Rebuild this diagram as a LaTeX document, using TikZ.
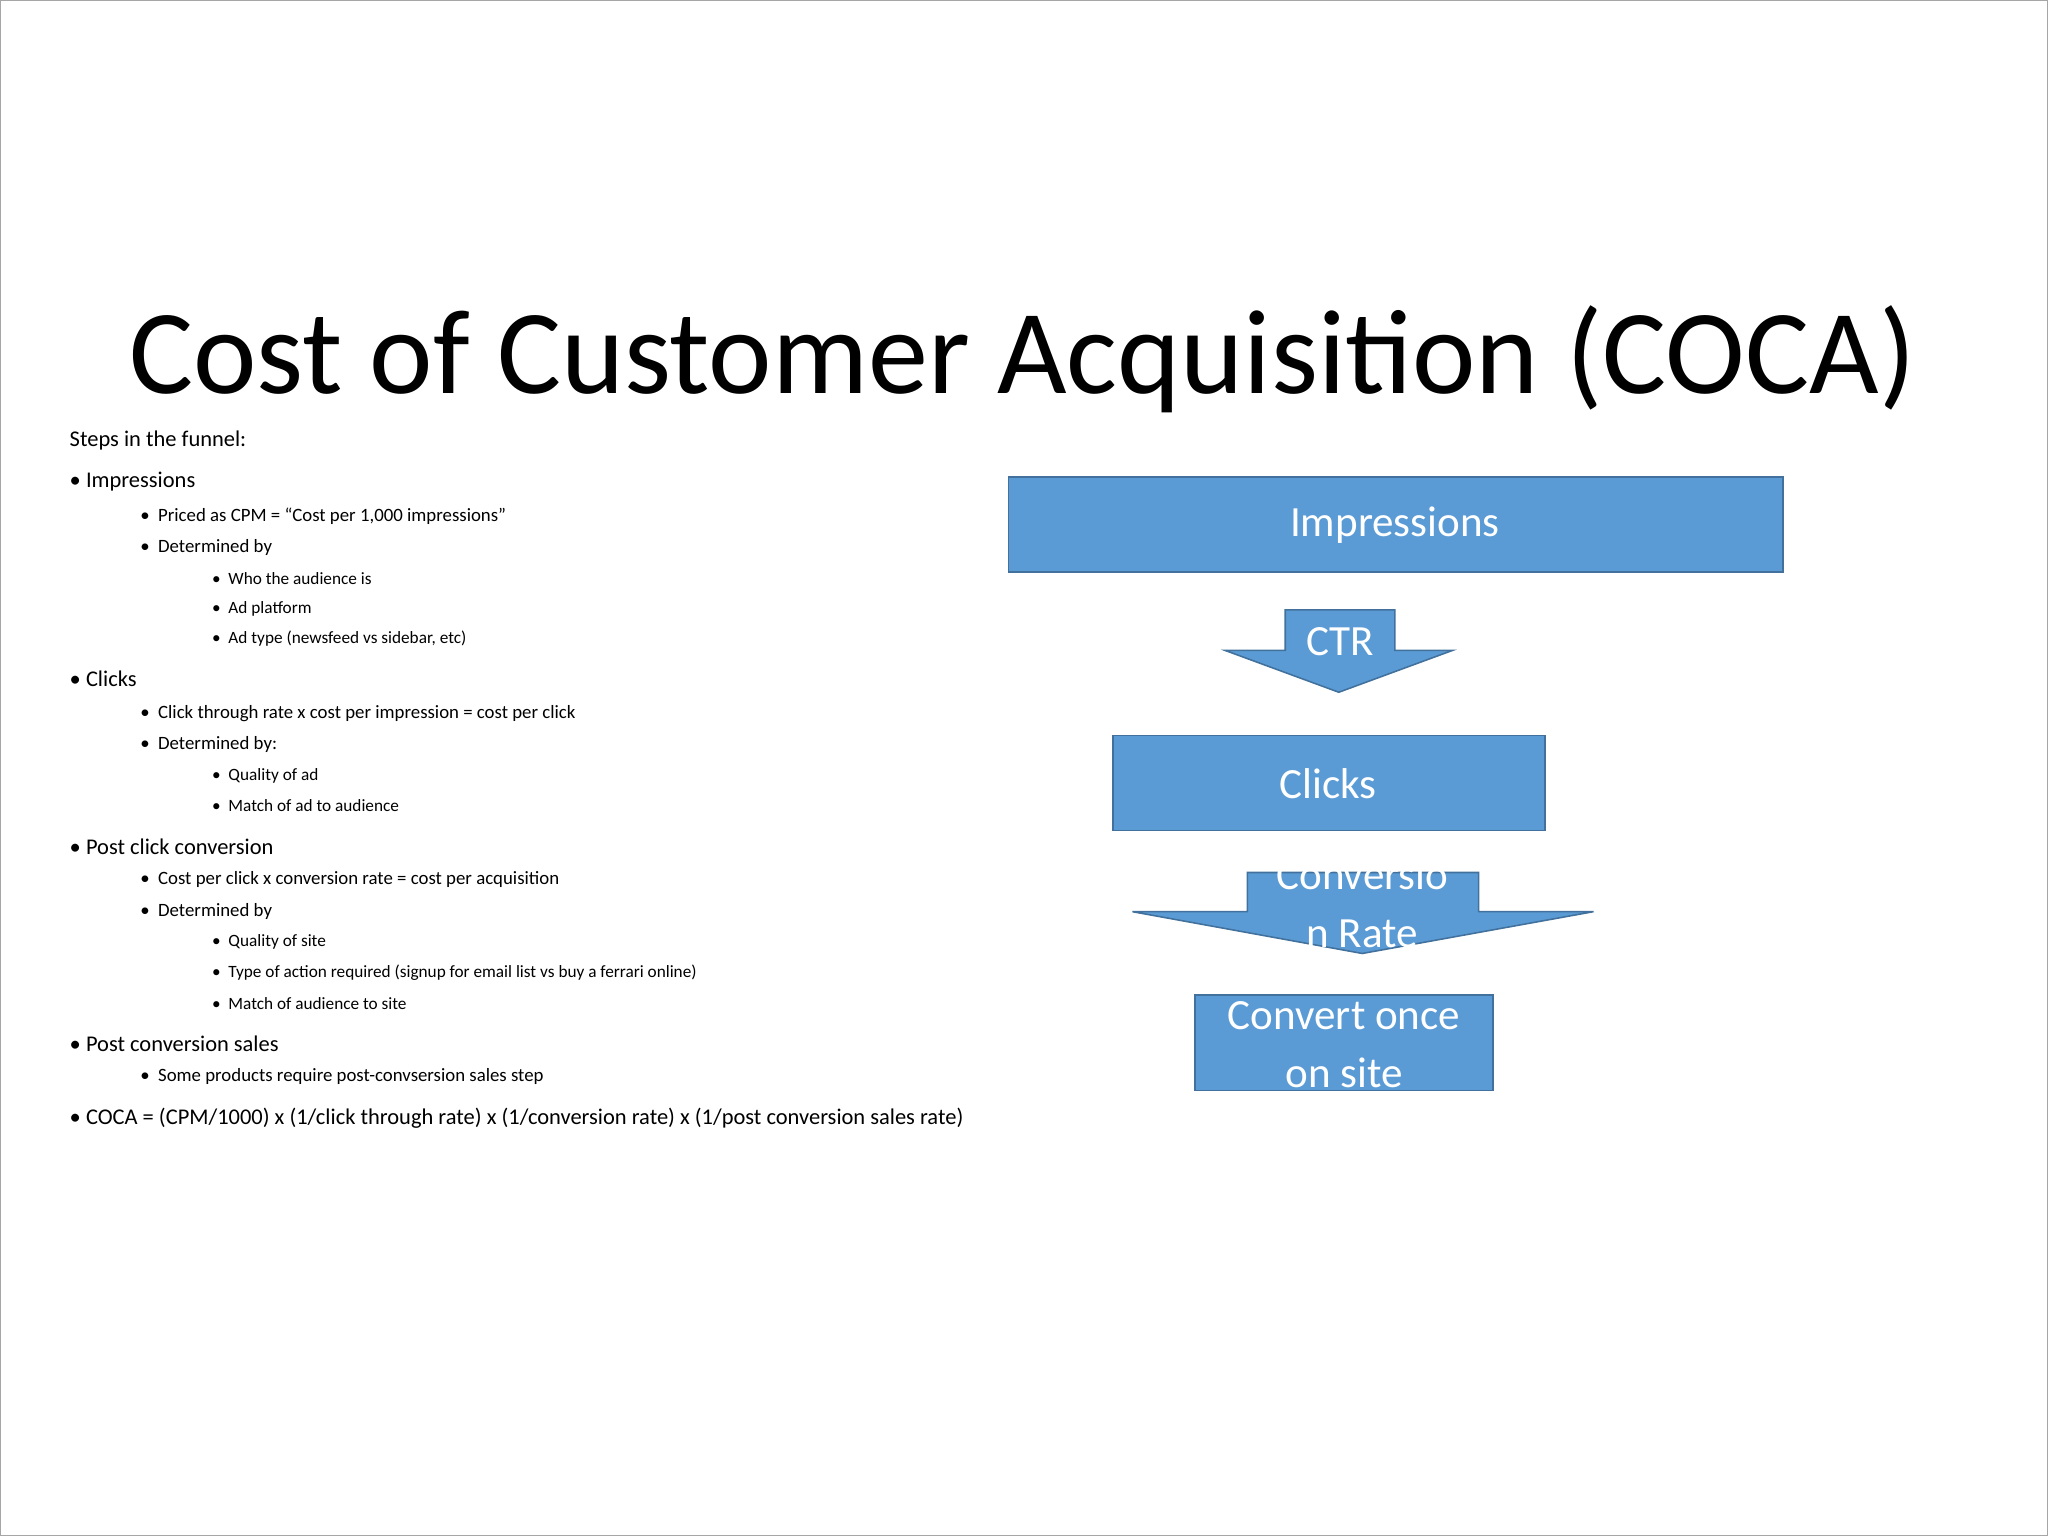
\documentclass[tikz,border=0pt]{standalone}
\usepackage{fontspec}
\setmainfont{Carlito}
\definecolor{boxblue}{HTML}{5B9BD5}
\definecolor{boxedge}{HTML}{41719C}
\tikzset{
  lvl0/.style={anchor=west,inner sep=0pt,font=\fontsize{8.6}{10}\selectfont},
  lvl1/.style={anchor=west,inner sep=0pt,font=\fontsize{7.2}{9}\selectfont},
  lvl2/.style={anchor=west,inner sep=0pt,font=\fontsize{6.6}{8}\selectfont},
  bx/.style={fill=boxblue,draw=boxedge,line width=0.6pt},
  bxt/.style={text=white,font=\fontsize{16.5}{20}\selectfont,inner sep=0pt,align=center}
}
\begin{document}
\begin{tikzpicture}[x=0.5pt,y=-0.5pt]
\useasboundingbox (0,0) rectangle (1568,1176);
\draw[gray!70,line width=0.6pt] (0.5,0.5) rectangle (1567.5,1175.5);
\node[inner sep=0pt,font=\fontsize{46}{50}\selectfont] (title) at (783,275) {Cost of Customer Acquisition (COCA)};
% text
\node[lvl0] (s0) at (53,337) {Steps in the funnel:};
\node[lvl0] (a) at (53,369) {\textbullet\ Impressions};
\node[lvl1] (a1) at (107,395) {\textbullet\ \ Priced as CPM = “Cost per 1,000 impressions”};
\node[lvl1] (a2) at (107,419) {\textbullet\ \ Determined by};
\node[lvl2] (a3) at (162,443) {\textbullet\ \ Who the audience is};
\node[lvl2] (a4) at (162,466) {\textbullet\ \ Ad platform};
\node[lvl2] (a5) at (162,489) {\textbullet\ \ Ad type (newsfeed vs sidebar, etc)};
\node[lvl0] (b) at (53,520) {\textbullet\ Clicks};
\node[lvl1] (b1) at (107,546) {\textbullet\ \ Click through rate x cost per impression = cost per click};
\node[lvl1] (b2) at (107,570) {\textbullet\ \ Determined by:};
\node[lvl2] (b3) at (162,594) {\textbullet\ \ Quality of ad};
\node[lvl2] (b4) at (162,617) {\textbullet\ \ Match of ad to audience};
\node[lvl0] (c) at (53,648) {\textbullet\ Post click conversion};
\node[lvl1] (c1) at (107,673) {\textbullet\ \ Cost per click x conversion rate = cost per acquisition};
\node[lvl1] (c2) at (107,698) {\textbullet\ \ Determined by};
\node[lvl2] (c3) at (162,721) {\textbullet\ \ Quality of site};
\node[lvl2] (c4) at (162,745) {\textbullet\ \ Type of action required (signup for email list vs buy a ferrari online)};
\node[lvl2] (c5) at (162,768) {\textbullet\ \ Match of audience to site};
\node[lvl0] (d) at (53,799) {\textbullet\ Post conversion sales};
\node[lvl1] (d1) at (107,824) {\textbullet\ \ Some products require post-convsersion sales step};
\node[lvl0] (e) at (53,856) {\textbullet\ COCA = (CPM/1000) x (1/click through rate) x (1/conversion rate) x (1/post conversion sales rate)};
% funnel
\draw[bx] (772,365) rectangle (1365,438);
\node[bxt] (imp) at (1068,402) {Impressions};
\draw[bx] (984,467) -- (1068,467) -- (1068,498) -- (1112,498) -- (1025,530) -- (938,498) -- (984,498) -- cycle;
\node[bxt] (ctr) at (1026,491) {CTR};
\draw[bx] (852,563) rectangle (1183,636);
\node[bxt] (clk) at (1017,600) {Clicks};
\draw[bx] (955,668) -- (1132,668) -- (1132,698) -- (1220,698) -- (1043,730) -- (867,698) -- (955,698) -- cycle;
\begin{scope}
\clip (0,660) rectangle (1568,1176);
\node[bxt,font=\fontsize{16.5}{22}\selectfont] (cr) at (1043,692) {Conversio\\n Rate};
\end{scope}
\draw[bx] (915,762) rectangle (1143,835);
\node[bxt,font=\fontsize{16.5}{22}\selectfont] (cv) at (1029,800) {Convert once\\on site};
\end{tikzpicture}
\end{document}
